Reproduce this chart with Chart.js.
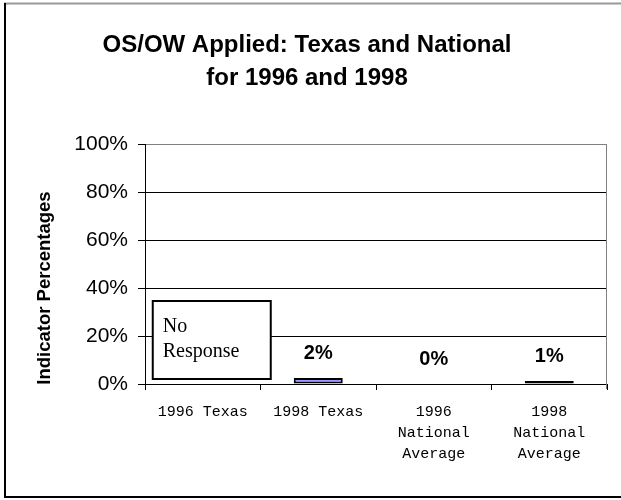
<!DOCTYPE html>
<html>
<head>
<meta charset="utf-8">
<script src="https://cdn.jsdelivr.net/npm/chart.js@4.4.0/dist/chart.umd.min.js"></script>
<style>
html,body{margin:0;padding:0;background:#fff;}
canvas{display:block;}
</style>
</head>
<body>
<canvas id="c" width="621" height="500"></canvas>
<script>
const titleLines = ['OS/OW Applied: Texas and National', 'for 1996 and 1998'];
const categories = [['1996 Texas'], ['1998 Texas'], ['1996', 'National', 'Average'], ['1998', 'National', 'Average']];
const values = [null, 2.5, 0, 1.2];
const valueLabels = [null, '2%', '0%', '1%'];
const barColors = ['#9999ff', '#9999ff', '#9999ff', '#2a2a4a'];
const yTicks = [0, 20, 40, 60, 80, 100];
const yTitle = 'Indicator Percentages';
const noResponseText = ['No', 'Response'];

const SANS = "'Liberation Sans', Arial, sans-serif";

const decor = {
  id: 'decor',
  afterDraw(chart) {
    const ctx = chart.ctx;
    const ca = chart.chartArea;
    ctx.save();
    // outer frame
    ctx.strokeStyle = '#999';
    ctx.lineWidth = 2;
    ctx.beginPath(); ctx.moveTo(4, 3.5); ctx.lineTo(621, 3.5); ctx.stroke();
    ctx.strokeStyle = '#000';
    ctx.beginPath(); ctx.moveTo(5, 3); ctx.lineTo(5, 497); ctx.lineTo(621, 497); ctx.stroke();
    // right border of plot area
    ctx.strokeStyle = '#808080';
    ctx.lineWidth = 1;
    ctx.beginPath(); ctx.moveTo(ca.right - 0.5, ca.top); ctx.lineTo(ca.right - 0.5, ca.bottom + 5); ctx.stroke();
    // title
    ctx.fillStyle = '#000';
    ctx.font = "bold 24px " + SANS;
    ctx.textAlign = 'center';
    ctx.textBaseline = 'middle';
    ctx.fillText(titleLines[0], 307, 45);
    ctx.fillText(titleLines[1], 307, 78);
    // y-axis title
    ctx.save();
    ctx.translate(45, 288);
    ctx.rotate(-Math.PI / 2);
    ctx.font = "bold 18.5px " + SANS;
    ctx.fillText(yTitle, 0, 0);
    ctx.restore();
    // value labels above bars
    const meta = chart.getDatasetMeta(0);
    ctx.font = "bold 20px " + SANS;
    meta.data.forEach((bar, i) => {
      if (valueLabels[i] == null || values[i] == null) return;
      ctx.fillText(valueLabels[i], bar.x, bar.y - 25);
    });
    // No Response box over first category
    const xs = chart.scales.x;
    const cx = xs.getPixelForValue(0);
    const bx = cx - 50, by = 301, bw = 118, bh = 78;
    ctx.fillStyle = '#fff';
    ctx.fillRect(bx, by, bw, bh);
    ctx.strokeStyle = '#000';
    ctx.lineWidth = 2;
    ctx.strokeRect(bx, by, bw, bh);
    ctx.fillStyle = '#000';
    ctx.font = "20px 'Liberation Serif', 'Times New Roman', serif";
    ctx.textAlign = 'left';
    ctx.fillText(noResponseText[0], bx + 10, 327);
    ctx.fillText(noResponseText[1], bx + 10, 352);
    ctx.restore();
  }
};

new Chart(document.getElementById('c'), {
  type: 'bar',
  data: {
    labels: categories,
    datasets: [{
      data: values,
      backgroundColor: barColors,
      borderColor: '#000',
      borderWidth: 2,
      borderSkipped: false,
      categoryPercentage: 1,
      barPercentage: 0.424
    }]
  },
  options: {
    responsive: false,
    animation: false,
    devicePixelRatio: 1,
    layout: { padding: { left: 0, top: 144, right: 14, bottom: 0 } },
    plugins: { legend: { display: false }, title: { display: false }, tooltip: { enabled: false } },
    scales: {
      y: {
        min: 0, max: 100,
        afterFit(s) { s.width = 145; },
        afterBuildTicks(s) { s.ticks = yTicks.map(v => ({ value: v })); },
        ticks: {
          color: '#000',
          padding: 10,
          font: { family: SANS, size: 21 },
          callback: v => v + '%'
        },
        grid: {
          color: ctx => (ctx.tick && ctx.tick.value === 100) ? '#808080' : '#000',
          tickColor: '#000',
          tickLength: 7,
          lineWidth: 1
        },
        border: { color: '#000', width: 1 }
      },
      x: {
        afterFit(s) { s.height = 116; },
        ticks: {
          color: '#000',
          padding: 12,
          maxRotation: 0,
          autoSkip: false,
          font: { family: "'Liberation Mono', 'Courier New', monospace", size: 15, lineHeight: 1.4 }
        },
        grid: {
          offset: true,
          drawOnChartArea: false,
          color: '#000',
          tickLength: 6
        },
        border: { color: '#000', width: 1 }
      }
    }
  },
  plugins: [decor]
});
</script>
</body>
</html>
